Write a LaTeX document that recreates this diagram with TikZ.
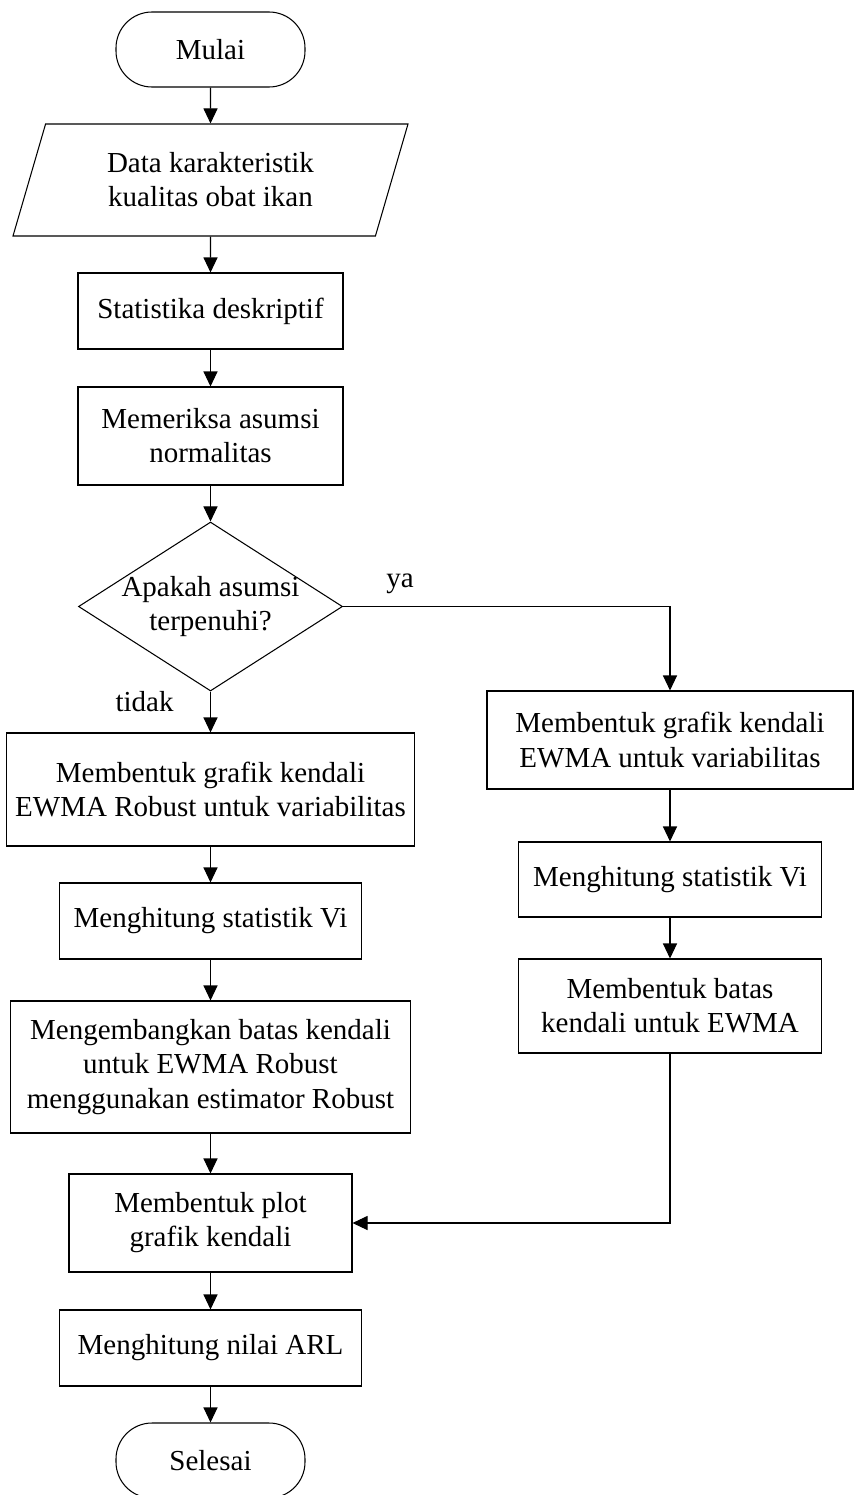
\documentclass[tikz,border=0pt]{standalone}
\usepackage{fontspec}
\setmainfont{Liberation Serif}
\usetikzlibrary{arrows.meta,positioning,shapes.geometric,shapes.misc}

\begin{document}
\begin{tikzpicture}[every node/.style={font=\fontsize{16.5}{19.4}\selectfont}, >={Triangle[length=0.3cm,width=0.28cm]}, line width=0.6pt,
  proc/.style={draw, rectangle, align=center, inner sep=2pt},
  term/.style={draw, rectangle, rounded corners=0.72cm, minimum width=3.78cm, minimum height=1.5cm},
  io/.style={draw, trapezium, trapezium left angle=63.8, trapezium right angle=116.2, trapezium stretches body, minimum width=7.9cm, minimum height=2.24cm, align=center},
  decision/.style={draw, diamond, minimum width=5.28cm, minimum height=3.38cm, inner sep=0pt}]
\useasboundingbox (0,0) rectangle (17.08,-29.9);
\node[term] (start) at (4.21,-0.99) {Mulai};
\node[io] (data) at (4.21,-3.6) {Data karakteristik\\kualitas obat ikan};
\node[proc, minimum width=5.3cm, minimum height=1.52cm] (desc) at (4.21,-6.22) {Statistika deskriptif};
\node[proc, minimum width=5.3cm, minimum height=1.96cm] (norm) at (4.21,-8.72) {Memeriksa asumsi\\normalitas};
\node[decision, label={[align=center]center:Apakah asumsi\\terpenuhi?}] (cek) at (4.21,-12.13) {};
\node[proc, minimum width=8.16cm, minimum height=2.26cm] (robust) at (4.21,-15.79) {Membentuk grafik kendali\\EWMA Robust untuk variabilitas};
\node[proc, minimum width=6.04cm, minimum height=1.52cm] (viL) at (4.21,-18.42) {Menghitung statistik Vi};
\node[proc, minimum width=8.0cm, minimum height=2.64cm] (batasL) at (4.21,-21.34) {Mengembangkan batas kendali\\untuk EWMA Robust\\menggunakan estimator Robust};
\node[proc, minimum width=5.66cm, minimum height=1.96cm] (plot) at (4.21,-24.46) {Membentuk plot\\grafik kendali};
\node[proc, minimum width=6.04cm, minimum height=1.52cm] (arl) at (4.21,-26.96) {Menghitung nilai ARL};
\node[term] (stop) at (4.21,-29.21) {Selesai};
\node[proc, minimum width=7.32cm, minimum height=1.96cm] (ewma) at (13.4,-14.8) {Membentuk grafik kendali\\EWMA untuk variabilitas};
\node[proc, minimum width=6.06cm, minimum height=1.5cm] (viR) at (13.4,-17.59) {Menghitung statistik Vi};
\node[proc, minimum width=6.06cm, minimum height=1.88cm] (batasR) at (13.4,-20.12) {Membentuk batas\\kendali untuk EWMA};
\node[anchor=base] (ya) at (8.0,-11.74) {ya};
\node[anchor=base] (tidak) at (2.89,-14.22) {tidak};
\draw[->] (start) -- (data);
\draw[->] (data) -- (desc);
\draw[->] (desc) -- (norm);
\draw[->] (norm) -- (cek);
\draw[->] (cek) -- (robust);
\draw[->] (robust) -- (viL);
\draw[->] (viL) -- (batasL);
\draw[->] (batasL) -- (plot);
\draw[->] (plot) -- (arl);
\draw[->] (arl) -- (stop);
\draw[->] (cek.east) -| (ewma.north);
\draw[->] (ewma) -- (viR);
\draw[->] (viR) -- (batasR);
\draw[->] (batasR.south) |- (plot.east);
\end{tikzpicture}
\end{document}
